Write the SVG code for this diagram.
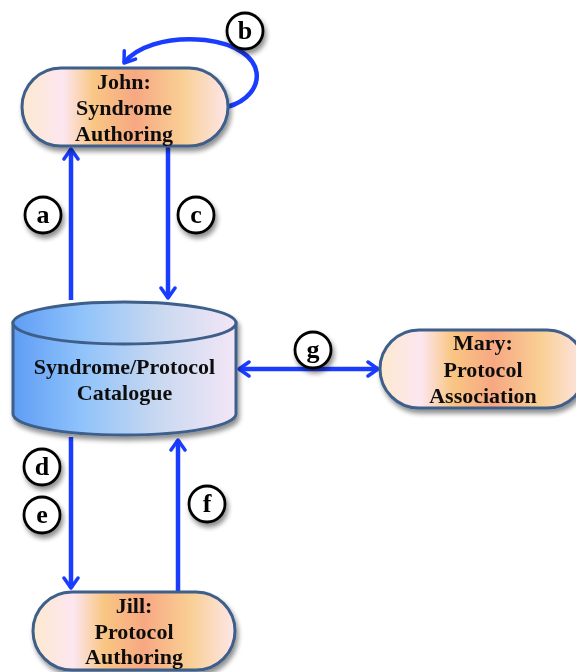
<svg xmlns="http://www.w3.org/2000/svg" width="576" height="672" viewBox="0 0 576 672">
<defs>
<linearGradient id="pill" x1="0" y1="0" x2="1" y2="0">
<stop offset="0" stop-color="#fde9cf"/>
<stop offset="0.2" stop-color="#fce6f0"/>
<stop offset="0.35" stop-color="#f9c683"/>
<stop offset="0.55" stop-color="#f7a882"/>
<stop offset="0.78" stop-color="#f9cf94"/>
<stop offset="1" stop-color="#fde6e8"/>
</linearGradient>
<linearGradient id="cyl" x1="0" y1="0" x2="1" y2="0">
<stop offset="0" stop-color="#5f9df5"/>
<stop offset="0.3" stop-color="#8ec2fb"/>
<stop offset="0.65" stop-color="#c8d8f0"/>
<stop offset="1" stop-color="#f3e6f6"/>
</linearGradient>
<filter id="sh" x="-20%" y="-20%" width="140%" height="150%">
<feGaussianBlur in="SourceAlpha" stdDeviation="2.5"/>
<feOffset dx="2" dy="4" result="b"/>
<feComponentTransfer><feFuncA type="linear" slope="0.45"/></feComponentTransfer>
<feMerge><feMergeNode/><feMergeNode in="SourceGraphic"/></feMerge>
</filter>
<marker id="ah" viewBox="0 0 16 18" refX="13" refY="9" markerWidth="16" markerHeight="18" markerUnits="userSpaceOnUse" orient="auto-start-reverse">
<path d="M3,2 L13,9 L3,16" fill="none" stroke="#1a3cff" stroke-width="3.5" stroke-linecap="round" stroke-linejoin="round"/>
</marker>
</defs>
<style>
.node{fill:url(#pill);stroke:#3e5f8a;stroke-width:3}
.t{font-family:"Liberation Serif","Times New Roman",serif;font-weight:bold;font-size:22px;text-anchor:middle;fill:#111}
.lab circle{fill:#fff;stroke:#000;stroke-width:2.8}
.lab text{font-family:"Liberation Serif","Times New Roman",serif;font-weight:bold;font-size:26px;text-anchor:middle;fill:#000}
.c{fill:none;stroke:#1a3cff;stroke-width:4.5;marker-end:url(#ah)}
</style>
<g id="connectors">
<path class="c" d="M71,300 L71,149"/>
<path class="c" d="M168,147 L168,298"/>
<path class="c" d="M227,107 C268,96 272,48 205,40 C165,36 135,48 124,63"/>
<path class="c" d="M71,437 L71,588"/>
<path class="c" d="M178,592 L178,440"/>
<path class="c" style="marker-start:url(#ah)" d="M239,369 L378,369"/>
</g>
<g id="john" filter="url(#sh)">
<rect class="node" x="22" y="68" width="206" height="78" rx="39"/>
<text class="t" x="124" y="89">John:</text>
<text class="t" x="124" y="115">Syndrome</text>
<text class="t" x="124" y="141">Authoring</text>
</g>
<g id="catalogue" filter="url(#sh)">
<path d="M13,323 L13,414 A111.5,21 0 0 0 236,414 L236,323 Z" fill="url(#cyl)" stroke="#3e5f8a" stroke-width="3"/>
<ellipse cx="124.5" cy="323" rx="111.5" ry="21" fill="url(#cyl)" stroke="#3e5f8a" stroke-width="3"/>
<text class="t" x="124.5" y="374">Syndrome/Protocol</text>
<text class="t" x="124.5" y="400">Catalogue</text>
</g>
<g id="mary" filter="url(#sh)">
<rect class="node" x="380" y="330" width="206" height="78" rx="39"/>
<text class="t" x="483" y="350">Mary:</text>
<text class="t" x="483" y="377">Protocol</text>
<text class="t" x="483" y="403">Association</text>
</g>
<g id="jill" filter="url(#sh)">
<rect class="node" x="33" y="592" width="202" height="78" rx="39"/>
<text class="t" x="134" y="613">Jill:</text>
<text class="t" x="134" y="639">Protocol</text>
<text class="t" x="134" y="664">Authoring</text>
</g>
<g id="labels">
<g class="lab" id="la" filter="url(#sh)"><circle cx="43" cy="215" r="18"/><text x="43" y="223">a</text></g>
<g class="lab" id="lb" filter="url(#sh)"><circle cx="245" cy="31" r="18"/><text x="245" y="39">b</text></g>
<g class="lab" id="lc" filter="url(#sh)"><circle cx="196" cy="215" r="18"/><text x="196" y="223">c</text></g>
<g class="lab" id="ld" filter="url(#sh)"><circle cx="42" cy="467" r="18"/><text x="42" y="475">d</text></g>
<g class="lab" id="le" filter="url(#sh)"><circle cx="42" cy="515" r="18"/><text x="42" y="523">e</text></g>
<g class="lab" id="lf" filter="url(#sh)"><circle cx="207" cy="504" r="18"/><text x="207" y="512">f</text></g>
<g class="lab" id="lg" filter="url(#sh)"><circle cx="313" cy="350" r="18"/><text x="313" y="358">g</text></g>
</g>
</svg>
